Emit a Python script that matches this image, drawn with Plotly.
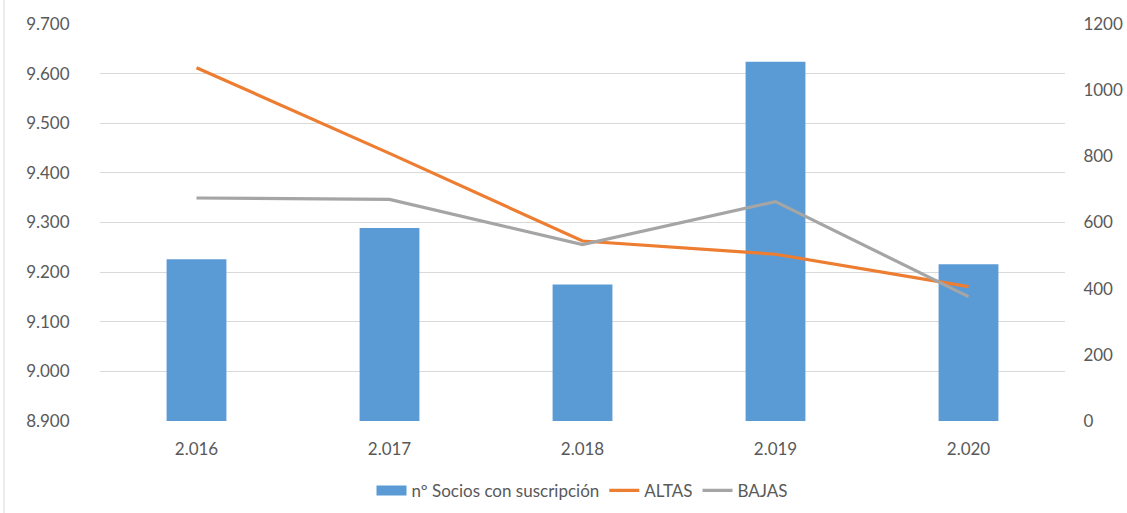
import plotly.graph_objects as go

years = ["2.016", "2.017", "2.018", "2.019", "2.020"]
socios = [9226, 9289, 9175, 9624, 9216]
altas = [1068, 809, 544, 504, 406]
bajas = [674, 670, 533, 663, 376]

font_fam = "Lato, Open Sans, sans-serif"
gray_txt = "#595959"
fs = 17

fig = go.Figure()
fig.add_trace(go.Bar(x=years, y=socios, name="nº Socios con suscripción",
                     marker=dict(color="#5b9bd5", line=dict(width=0)),
                     width=0.31, yaxis="y", showlegend=False))
# legend proxy for the bar series (wide rectangle like the original)
fig.add_trace(go.Scatter(x=[None], y=[None], name="nº Socios con suscripción",
                         mode="lines", line=dict(color="#5b9bd5", width=10),
                         yaxis="y"))
fig.add_trace(go.Scatter(x=years, y=altas, name="ALTAS", mode="lines",
                         line=dict(color="#ed7d31", width=3.2), yaxis="y2"))
fig.add_trace(go.Scatter(x=years, y=bajas, name="BAJAS", mode="lines",
                         line=dict(color="#a5a5a5", width=3.2), yaxis="y2"))

fig.update_layout(
    width=1127, height=513,
    margin=dict(l=100, r=62, t=24, b=92, autoexpand=False),
    paper_bgcolor="white", plot_bgcolor="white",
    separators=",.",
    font=dict(family=font_fam, size=fs, color=gray_txt),
    showlegend=True,
    legend=dict(orientation="h", x=0.5, xanchor="center", y=-0.176, yanchor="middle",
                font=dict(size=fs, color=gray_txt), traceorder="normal"),
    xaxis=dict(type="category", showgrid=False, showline=False, zeroline=False,
               ticks="outside", ticklen=13, tickcolor="rgba(0,0,0,0)",
               tickfont=dict(size=fs, color=gray_txt)),
    yaxis=dict(range=[8900, 9700], dtick=100, tickformat=",d",
               showgrid=True, gridcolor="#d9d9d9", gridwidth=1, zeroline=False,
               showline=False, ticks="outside", ticklen=26, tickcolor="rgba(0,0,0,0)",
               tickfont=dict(size=fs, color=gray_txt)),
    yaxis2=dict(range=[0, 1200], dtick=200, overlaying="y", side="right",
                showgrid=False, zeroline=False, showline=False,
                ticks="outside", ticklen=14, tickcolor="rgba(0,0,0,0)",
                tickfont=dict(size=fs, color=gray_txt)),
    bargap=0.69,
    shapes=[dict(type="line", xref="paper", yref="paper",
                 x0=-96/965, x1=-96/965, y0=-92/397, y1=1 + 24/397,
                 line=dict(color="#d9d9d9", width=1), layer="below")],
)

fig.write_html("out.html", config={"displayModeBar": False},
               post_script="document.body.style.margin='0';")
